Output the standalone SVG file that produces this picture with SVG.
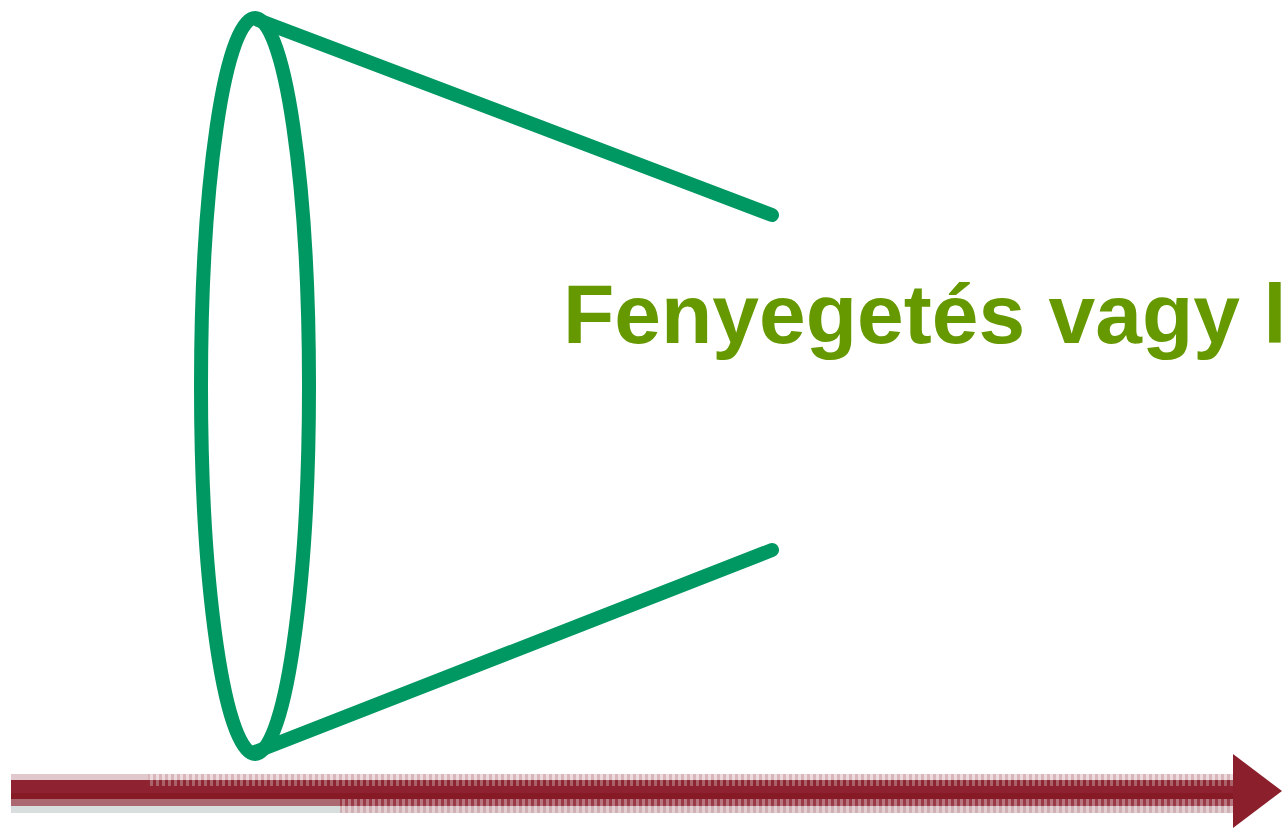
<svg xmlns="http://www.w3.org/2000/svg" width="1282" height="829" viewBox="0 0 1282 829">
<style>
.cone{fill:none;stroke:#009862;stroke-width:14;stroke-linecap:round;stroke-linejoin:round}
.lbl{font-family:"Liberation Sans",Arial,sans-serif;font-weight:bold;font-size:84px;fill:#669900}
</style>
<defs>
<pattern id="stTop" x="0" y="0" width="6" height="40" patternUnits="userSpaceOnUse">
<rect x="0" y="0" width="3" height="40" fill="#eddadd"/>
<rect x="3" y="0" width="3" height="40" fill="#d9b6bb"/>
</pattern>
<pattern id="stMid" x="0" y="0" width="6" height="40" patternUnits="userSpaceOnUse">
<rect x="0" y="0" width="3" height="40" fill="#a9616a"/>
<rect x="3" y="0" width="3" height="40" fill="#8e2532"/>
</pattern>
<pattern id="stLow" x="0" y="0" width="6" height="40" patternUnits="userSpaceOnUse">
<rect x="0" y="0" width="3" height="40" fill="#b87780"/>
<rect x="3" y="0" width="3" height="40" fill="#9a3a46"/>
</pattern>
<pattern id="stBot" x="0" y="0" width="6" height="40" patternUnits="userSpaceOnUse">
<rect x="0" y="0" width="3" height="40" fill="#e3cfd2"/>
<rect x="3" y="0" width="3" height="40" fill="#cfb0b4"/>
</pattern>
</defs>
<rect width="1282" height="829" fill="#ffffff"/>
<g id="cone">
<ellipse class="cone" cx="255" cy="386" rx="54" ry="368"/>
<polyline class="cone" points="772,215 258,20"/>
<polyline class="cone" points="772,550 255,752"/>
</g>
<g id="label">
<text class="lbl" x="563" y="343">Fenyegetés vagy lehetőség</text>
</g>
<g id="connectors">
<g id="arrow">
<rect x="11" y="774" width="137" height="6" fill="#e0c8cc"/>
<rect x="148" y="774" width="1085" height="6" fill="url(#stTop)"/>
<rect x="11" y="780" width="137" height="13" fill="#8e2230"/>
<rect x="148" y="780" width="1085" height="6" fill="url(#stMid)"/>
<rect x="148" y="786" width="1085" height="7" fill="#8e2230"/>
<rect x="11" y="793" width="1222" height="6" fill="#861a25"/>
<rect x="11" y="799" width="329" height="7" fill="#ab6870"/>
<rect x="340" y="799" width="893" height="7" fill="url(#stLow)"/>
<rect x="11" y="806" width="329" height="7" fill="#d8dede"/>
<rect x="340" y="806" width="893" height="7" fill="url(#stBot)"/>
<polygon points="1233,754 1282,791 1233,828" fill="#8b1f2c"/>
</g>
</g>
</svg>
